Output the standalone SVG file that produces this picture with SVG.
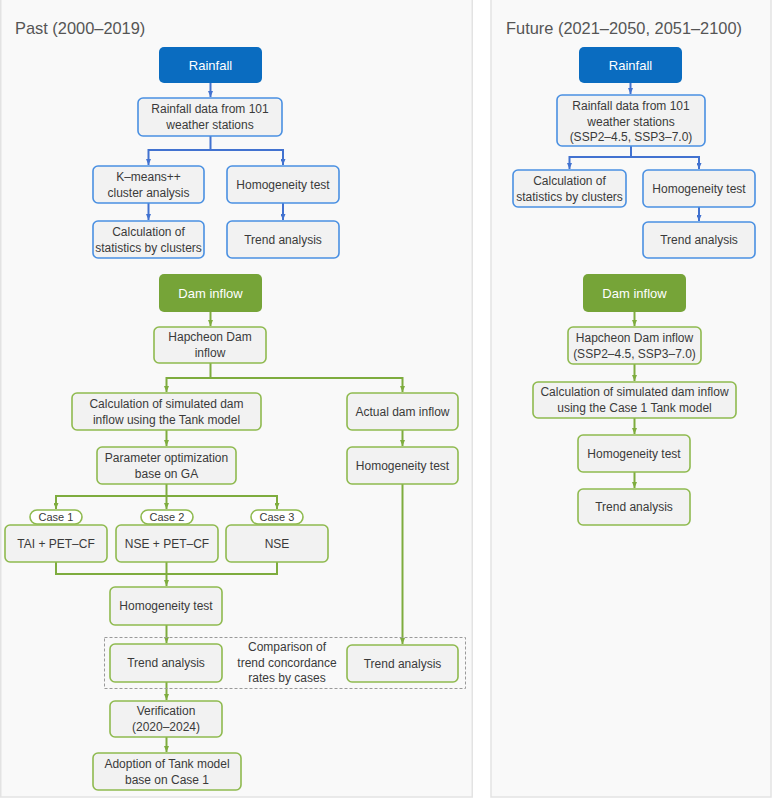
<svg xmlns="http://www.w3.org/2000/svg" width="773" height="799" viewBox="0 0 773 799">
<defs>
<style>
.panel{fill:#f9f9f9;stroke:#e3e3e3;stroke-width:1.5}
.t{font-family:"Liberation Sans",Arial,sans-serif;font-size:12px;fill:#3a3a3a;text-anchor:middle}
.title{font-family:"Liberation Sans",Arial,sans-serif;font-size:16.4px;fill:#555;}
.hb{fill:#0a6cc0}
.hg{fill:#76a438}
.ht{font-family:"Liberation Sans",Arial,sans-serif;font-size:13px;fill:#fff;text-anchor:middle}
.bb{fill:#f2f2f2;stroke:#4a90e2;stroke-width:1.6}
.gb{fill:#f2f2f2;stroke:#8fba4f;stroke-width:1.6}
.pill{fill:#fff;stroke:#8fba4f;stroke-width:1.6}
.pt{font-family:"Liberation Sans",Arial,sans-serif;font-size:11px;fill:#3a3a3a;text-anchor:middle}
.lb{fill:none;stroke:#4272d0;stroke-width:2}
.lg{fill:none;stroke:#7eac3e;stroke-width:2}
.dash{fill:none;stroke:#9a9a9a;stroke-width:1;stroke-dasharray:3 2}
</style>
<marker id="ab" viewBox="0 0 6 5" refX="6" refY="2.5" markerWidth="6" markerHeight="5" markerUnits="userSpaceOnUse" orient="auto"><path d="M0,0L6,2.5L0,5z" fill="#4272d0"/></marker>
<marker id="ag" viewBox="0 0 6 5" refX="6" refY="2.5" markerWidth="6" markerHeight="5" markerUnits="userSpaceOnUse" orient="auto"><path d="M0,0L6,2.5L0,5z" fill="#7eac3e"/></marker>
</defs>
<rect width="773" height="799" fill="#fff"/>
<rect class="panel" x="0.75" y="-2" width="471.5" height="799"/>
<rect class="panel" x="491" y="-2" width="280" height="799"/>
<text class="title" x="15" y="34">Past (2000–2019)</text>
<text class="title" x="506" y="34">Future (2021–2050, 2051–2100)</text>

<g id="connectors">
<!-- left blue -->
<path class="lb" d="M210.5,83V97" marker-end="url(#ab)"/>
<path class="lb" d="M210.5,136V150H148.5V165" marker-end="url(#ab)"/>
<path class="lb" d="M210.5,150H283V165" marker-end="url(#ab)"/>
<path class="lb" d="M148.5,203V220" marker-end="url(#ab)"/>
<path class="lb" d="M283,203V220" marker-end="url(#ab)"/>
<!-- left green -->
<path class="lg" d="M210.5,312V326" marker-end="url(#ag)"/>
<path class="lg" d="M210.5,363V378H166.5V392" marker-end="url(#ag)"/>
<path class="lg" d="M210.5,378H402.5V392" marker-end="url(#ag)"/>
<path class="lg" d="M166.5,430V446" marker-end="url(#ag)"/>
<path class="lg" d="M402.5,430V446" marker-end="url(#ag)"/>
<path class="lg" d="M166.5,484V496H56V509" marker-end="url(#ag)"/>
<path class="lg" d="M166.5,496V509" marker-end="url(#ag)"/>
<path class="lg" d="M166.5,496H277V509" marker-end="url(#ag)"/>
<path class="lg" d="M56,562V574H277V562"/>
<path class="lg" d="M166.5,562V586" marker-end="url(#ag)"/>
<path class="lg" d="M166.5,625V643" marker-end="url(#ag)"/>
<path class="lg" d="M402.5,484V644" marker-end="url(#ag)"/>
<path class="lg" d="M166.5,682V700" marker-end="url(#ag)"/>
<path class="lg" d="M166.5,737V752" marker-end="url(#ag)"/>
<!-- right blue -->
<path class="lb" d="M630.5,83V94" marker-end="url(#ab)"/>
<path class="lb" d="M631,146V157H569.5V169" marker-end="url(#ab)"/>
<path class="lb" d="M631,157H699V169" marker-end="url(#ab)"/>
<path class="lb" d="M699,207V221" marker-end="url(#ab)"/>
<!-- right green -->
<path class="lg" d="M634.5,312V326" marker-end="url(#ag)"/>
<path class="lg" d="M634.5,364V381" marker-end="url(#ag)"/>
<path class="lg" d="M634.5,418V434" marker-end="url(#ag)"/>
<path class="lg" d="M634.5,472V488" marker-end="url(#ag)"/>
</g>

<rect class="dash" x="104.5" y="637.5" width="361" height="51"/>

<!-- Left panel nodes -->
<g id="p-rainfall"><rect class="hb" x="159" y="47" width="103" height="36" rx="5"/><text class="ht" x="210.5" y="69.5">Rainfall</text></g>
<g id="p-data"><rect class="bb" x="138" y="98" width="144" height="38" rx="5"/><text class="t" x="210" y="113">Rainfall data from 101</text><text class="t" x="210" y="129">weather stations</text></g>
<g id="p-kmeans"><rect class="bb" x="93" y="166" width="111" height="37" rx="5"/><text class="t" x="148.5" y="181">K–means++</text><text class="t" x="148.5" y="197">cluster analysis</text></g>
<g id="p-homog1"><rect class="bb" x="227" y="166" width="112" height="37" rx="5"/><text class="t" x="283" y="189">Homogeneity test</text></g>
<g id="p-stats"><rect class="bb" x="93" y="221" width="111" height="37" rx="5"/><text class="t" x="148.5" y="236">Calculation of</text><text class="t" x="148.5" y="252">statistics by clusters</text></g>
<g id="p-trend1"><rect class="bb" x="227" y="221" width="112" height="37" rx="5"/><text class="t" x="283" y="244">Trend analysis</text></g>

<g id="p-dam"><rect class="hg" x="159" y="274" width="103" height="38" rx="5"/><text class="ht" x="210.5" y="297.5">Dam inflow</text></g>
<g id="p-hapcheon"><rect class="gb" x="154" y="327" width="112" height="36" rx="5"/><text class="t" x="210" y="341">Hapcheon Dam</text><text class="t" x="210" y="357">inflow</text></g>
<g id="p-sim"><rect class="gb" x="72" y="393" width="189" height="37" rx="5"/><text class="t" x="166.5" y="408">Calculation of simulated dam</text><text class="t" x="166.5" y="424">inflow using the Tank model</text></g>
<g id="p-actual"><rect class="gb" x="347" y="393" width="111" height="37" rx="5"/><text class="t" x="402.5" y="416">Actual dam inflow</text></g>
<g id="p-param"><rect class="gb" x="97" y="447" width="139" height="37" rx="5"/><text class="t" x="166.5" y="462">Parameter optimization</text><text class="t" x="166.5" y="478">base on GA</text></g>
<g id="p-homog-actual"><rect class="gb" x="347" y="447" width="111" height="37" rx="5"/><text class="t" x="402.5" y="470">Homogeneity test</text></g>

<g id="p-case1"><rect class="gb" x="5" y="525" width="102" height="37" rx="5"/><rect class="pill" x="30" y="510" width="52" height="14" rx="7"/><text class="pt" x="56" y="521">Case 1</text><text class="t" x="56" y="548">TAI + PET–CF</text></g>
<g id="p-case2"><rect class="gb" x="116" y="525" width="102" height="37" rx="5"/><rect class="pill" x="141" y="510" width="52" height="14" rx="7"/><text class="pt" x="167" y="521">Case 2</text><text class="t" x="167" y="548">NSE + PET–CF</text></g>
<g id="p-case3"><rect class="gb" x="226" y="525" width="102" height="37" rx="5"/><rect class="pill" x="251" y="510" width="52" height="14" rx="7"/><text class="pt" x="277" y="521">Case 3</text><text class="t" x="277" y="548">NSE</text></g>

<g id="p-homog2"><rect class="gb" x="110" y="587" width="112" height="38" rx="5"/><text class="t" x="166" y="610">Homogeneity test</text></g>
<g id="p-trend2"><rect class="gb" x="110" y="644" width="112" height="38" rx="5"/><text class="t" x="166" y="667">Trend analysis</text></g>
<g id="p-compare"><text class="t" x="287" y="651">Comparison of</text><text class="t" x="287" y="667">trend concordance</text><text class="t" x="287" y="682">rates by cases</text></g>
<g id="p-trend-actual"><rect class="gb" x="347" y="645" width="111" height="37" rx="5"/><text class="t" x="402.5" y="668">Trend analysis</text></g>
<g id="p-verif"><rect class="gb" x="110" y="701" width="112" height="36" rx="5"/><text class="t" x="166" y="715">Verification</text><text class="t" x="166" y="731">(2020–2024)</text></g>
<g id="p-adopt"><rect class="gb" x="93" y="753" width="148" height="37" rx="5"/><text class="t" x="167" y="768">Adoption of Tank model</text><text class="t" x="167" y="784">base on Case 1</text></g>

<!-- Right panel nodes -->
<g id="f-rainfall"><rect class="hb" x="579" y="47" width="103" height="36" rx="5"/><text class="ht" x="630.5" y="69.5">Rainfall</text></g>
<g id="f-data"><rect class="bb" x="557" y="95" width="148" height="51" rx="5"/><text class="t" x="631" y="110">Rainfall data from 101</text><text class="t" x="631" y="125.5">weather stations</text><text class="t" x="631" y="141">(SSP2–4.5, SSP3–7.0)</text></g>
<g id="f-stats"><rect class="bb" x="513" y="170" width="113" height="37" rx="5"/><text class="t" x="569.5" y="185">Calculation of</text><text class="t" x="569.5" y="201">statistics by clusters</text></g>
<g id="f-homog1"><rect class="bb" x="643" y="170" width="112" height="37" rx="5"/><text class="t" x="699" y="193">Homogeneity test</text></g>
<g id="f-trend1"><rect class="bb" x="643" y="222" width="112" height="36" rx="5"/><text class="t" x="699" y="244">Trend analysis</text></g>

<g id="f-dam"><rect class="hg" x="583" y="274" width="103" height="38" rx="5"/><text class="ht" x="634.5" y="297.5">Dam inflow</text></g>
<g id="f-hapcheon"><rect class="gb" x="568" y="327" width="133" height="37" rx="5"/><text class="t" x="634.5" y="342">Hapcheon Dam inflow</text><text class="t" x="634.5" y="358">(SSP2–4.5, SSP3–7.0)</text></g>
<g id="f-sim"><rect class="gb" x="533" y="382" width="203" height="36" rx="5"/><text class="t" x="634.5" y="396">Calculation of simulated dam inflow</text><text class="t" x="634.5" y="412">using the Case 1 Tank model</text></g>
<g id="f-homog"><rect class="gb" x="578" y="435" width="112" height="37" rx="5"/><text class="t" x="634" y="458">Homogeneity test</text></g>
<g id="f-trend"><rect class="gb" x="578" y="489" width="112" height="36" rx="5"/><text class="t" x="634" y="511">Trend analysis</text></g>
</svg>
